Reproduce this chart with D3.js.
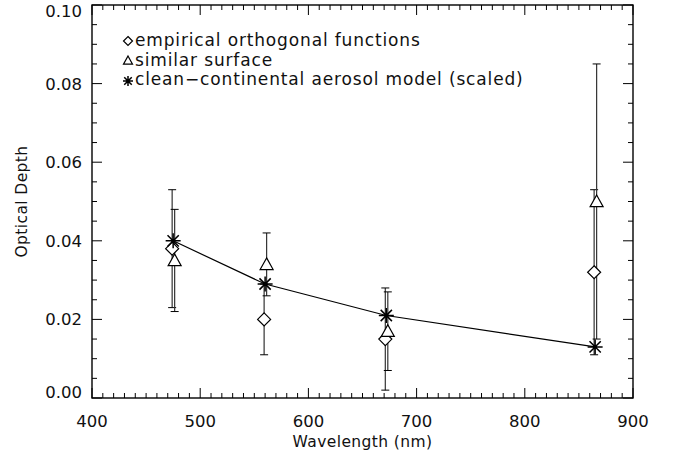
<!DOCTYPE html>
<html>
<head>
<meta charset="utf-8">
<script src="https://cdnjs.cloudflare.com/ajax/libs/d3/7.8.5/d3.min.js"></script>
<style>
  body { margin: 0; background: #fff; }
  svg { font-family: "DejaVu Sans", sans-serif; }
  .tick-label { font-size: 16.5px; fill: #111; }
</style>
</head>
<body>
<svg id="chart"></svg>
<script>
// Data
const wavelengths = [475, 560, 672, 865];
const eofValues = [0.038, 0.020, 0.015, 0.032];
const eofErrors = [0.015, 0.009, 0.013, 0.021];
const simValues = [0.035, 0.034, 0.017, 0.050];
const simErrors = [0.013, 0.008, 0.010, 0.035];
const aerosolValues = [0.040, 0.029, 0.021, 0.013];
const xTicks = [400, 500, 600, 700, 800, 900];
const yTicks = [0.00, 0.02, 0.04, 0.06, 0.08, 0.10];
const legendLabels = ["empirical orthogonal functions", "similar surface", "clean\u2212continental aerosol model (scaled)"];

const W = 673, H = 460;
const margin = {top: 5, right: 40, bottom: 62, left: 92};
const width = W - margin.left - margin.right,
      height = H - margin.top - margin.bottom;

const svg = d3.select("#chart").attr("width", W).attr("height", H);
const g = svg.append("g").attr("transform", `translate(${margin.left},${margin.top})`);

const x = d3.scaleLinear().domain([400, 900]).range([0, width]);
const y = d3.scaleLinear().domain([0, 0.10]).range([height, 0]);

// frame
g.append("rect").attr("width", width).attr("height", height)
  .attr("fill", "none").attr("stroke", "#000").attr("stroke-width", 1.4);

// ticks on all four sides (IDL style)
const xMinor = d3.range(400, 901, 10);
const yMinor = d3.range(0, 0.1001, 0.005);
xMinor.forEach(v => {
  const len = v % 100 === 0 ? 10 : 5;
  g.append("line").attr("x1", x(v)).attr("x2", x(v)).attr("y1", height).attr("y2", height - len).attr("stroke", "#000");
  g.append("line").attr("x1", x(v)).attr("x2", x(v)).attr("y1", 0).attr("y2", len).attr("stroke", "#000");
});
yMinor.forEach((v, i) => {
  const len = i % 4 === 0 ? 10 : 5;
  g.append("line").attr("y1", y(v)).attr("y2", y(v)).attr("x1", 0).attr("x2", len).attr("stroke", "#000");
  g.append("line").attr("y1", y(v)).attr("y2", y(v)).attr("x1", width).attr("x2", width - len).attr("stroke", "#000");
});

// tick labels
g.selectAll(".xl").data(xTicks).enter().append("text")
  .attr("class", "tick-label").attr("x", d => x(d)).attr("y", height + 29)
  .attr("text-anchor", "middle").text(d => d);
g.selectAll(".yl").data(yTicks).enter().append("text")
  .attr("class", "tick-label").attr("x", -10)
  .attr("y", d => Math.max(12, Math.min(height, y(d) + 6)))
  .attr("text-anchor", "end").text(d => d.toFixed(2));

// axis titles
svg.append("text").attr("x", margin.left + x(650)).attr("y", 447)
  .attr("text-anchor", "middle").attr("font-size", 15.5).attr("letter-spacing", 0.4)
  .attr("fill", "#111").text("Wavelength (nm)");
svg.append("text").attr("transform", `translate(27,${margin.top + y(0.05)}) rotate(-90)`)
  .attr("text-anchor", "middle").attr("font-size", 15.5).attr("letter-spacing", 0.4)
  .attr("fill", "#111").text("Optical Depth");

// error bars
function errBars(vals, errs, dx) {
  vals.forEach((v, i) => {
    const cx = x(wavelengths[i]) + dx;
    g.append("line").attr("x1", cx).attr("x2", cx).attr("y1", y(v - errs[i])).attr("y2", y(v + errs[i]))
      .attr("stroke", "#333").attr("stroke-width", 1.2);
    [v - errs[i], v + errs[i]].forEach(e => {
      g.append("line").attr("x1", cx - 4).attr("x2", cx + 4).attr("y1", y(e)).attr("y2", y(e))
        .attr("stroke", "#000").attr("stroke-width", 1);
    });
  });
}
errBars(eofValues, eofErrors, -1);
errBars(simValues, simErrors, 1.5);

// markers
function diamond(sel, cx, cy, r) {
  sel.append("path").attr("d", `M${cx},${cy - r}L${cx + r},${cy}L${cx},${cy + r}L${cx - r},${cy}Z`)
    .attr("fill", "#fff").attr("stroke", "#000").attr("stroke-width", 1.2);
}
function triangle(sel, cx, cy, r) {
  sel.append("path").attr("d", `M${cx},${cy - r}L${cx + r},${cy + r * 0.8}L${cx - r},${cy + r * 0.8}Z`)
    .attr("fill", "#fff").attr("stroke", "#000").attr("stroke-width", 1.2);
}
function star(sel, cx, cy, r) {
  const p = `M${cx - r},${cy}L${cx + r},${cy}M${cx},${cy - r}L${cx},${cy + r}` +
    `M${cx - r * 0.75},${cy - r * 0.75}L${cx + r * 0.75},${cy + r * 0.75}` +
    `M${cx - r * 0.75},${cy + r * 0.75}L${cx + r * 0.75},${cy - r * 0.75}`;
  sel.append("path").attr("d", p).attr("stroke", "#000").attr("stroke-width", 1.5).attr("fill", "none");
}

eofValues.forEach((v, i) => diamond(g, x(wavelengths[i]) - 1, y(v), 6.5));
simValues.forEach((v, i) => triangle(g, x(wavelengths[i]) + 1.5, y(v), 6.5));

// aerosol model line and stars
const line = d3.line().x((d, i) => x(wavelengths[i])).y(d => y(d));
g.append("path").datum(aerosolValues).attr("d", line)
  .attr("fill", "none").attr("stroke", "#000").attr("stroke-width", 1.2);
aerosolValues.forEach((v, i) => star(g, x(wavelengths[i]), y(v), 7.5));

// legend
const legend = svg.append("g");
legendLabels.forEach((t, i) => {
  const base = 46 + i * 19.5;
  const cy = base - 5;
  if (i === 0) diamond(legend, 128, cy, 4.5);
  if (i === 1) triangle(legend, 128, cy, 4.5);
  if (i === 2) star(legend, 128, cy + 1, 5);
  legend.append("text").attr("x", 135).attr("y", base).attr("font-size", 17)
    .attr("letter-spacing", 0.85).attr("fill", "#111").text(t);
});
</script>
</body>
</html>
